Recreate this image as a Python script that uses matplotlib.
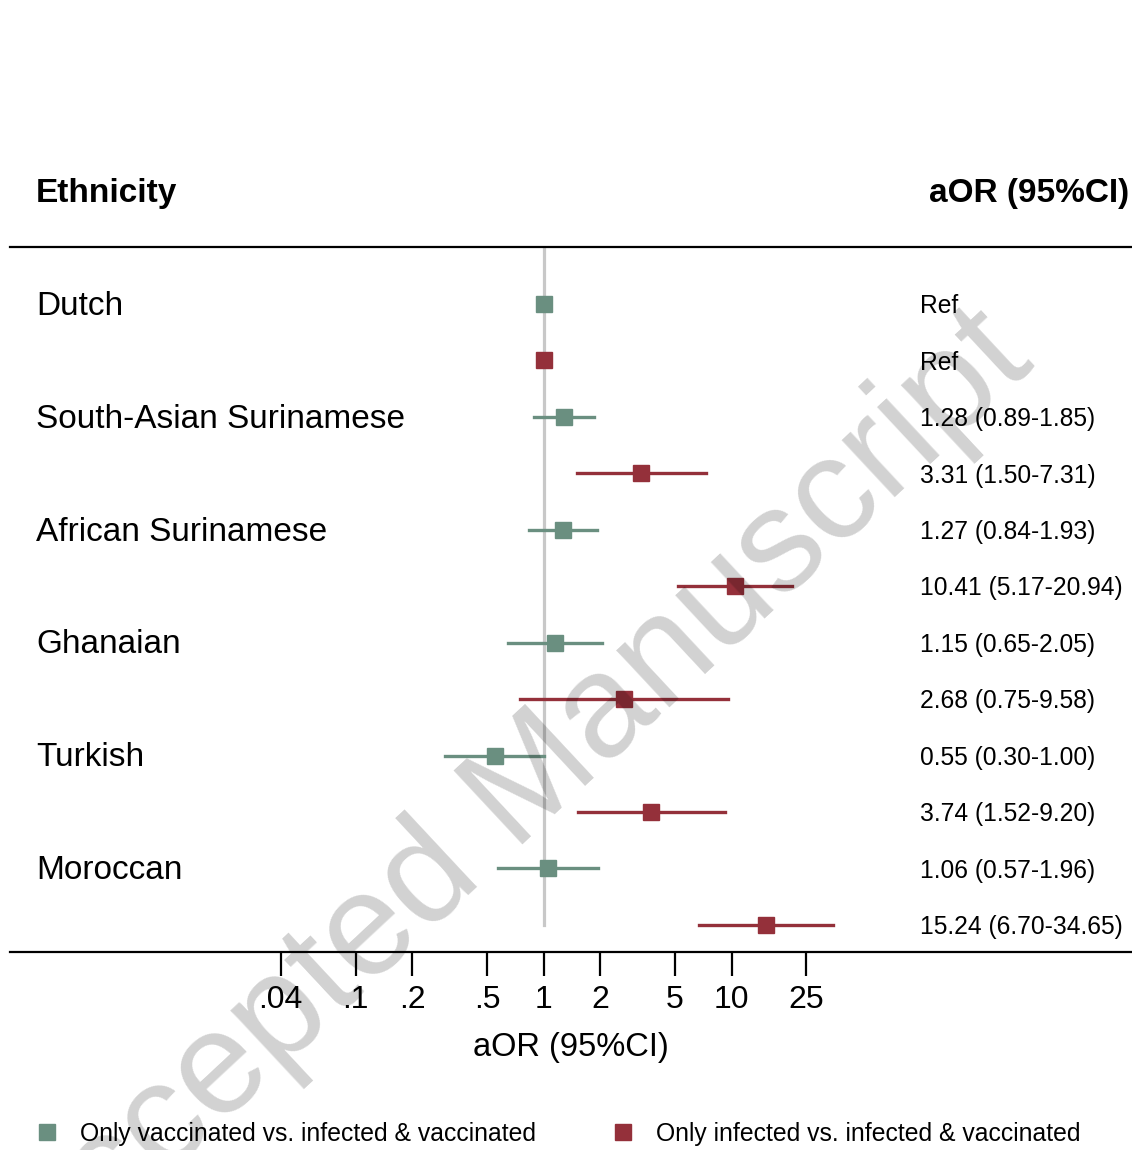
import matplotlib.pyplot as plt
from matplotlib.lines import Line2D
from matplotlib import transforms

plt.rcParams['font.family'] = ['Liberation Sans', 'DejaVu Sans']

# data
ethnicity = ['Dutch', 'South-Asian Surinamese', 'African Surinamese', 'Ghanaian', 'Turkish', 'Moroccan']
vacc_or = [1.0, 1.28, 1.27, 1.15, 0.55, 1.06]
vacc_lo = [1.0, 0.89, 0.84, 0.65, 0.30, 0.57]
vacc_hi = [1.0, 1.85, 1.93, 2.05, 1.00, 1.96]
inf_or = [1.0, 3.31, 10.41, 2.68, 3.74, 15.24]
inf_lo = [1.0, 1.50, 5.17, 0.75, 1.52, 6.70]
inf_hi = [1.0, 7.31, 20.94, 9.58, 9.20, 34.65]
vacc_txt = ['Ref', '1.28 (0.89-1.85)', '1.27 (0.84-1.93)', '1.15 (0.65-2.05)', '0.55 (0.30-1.00)', '1.06 (0.57-1.96)']
inf_txt = ['Ref', '3.31 (1.50-7.31)', '10.41 (5.17-20.94)', '2.68 (0.75-9.58)', '3.74 (1.52-9.20)', '15.24 (6.70-34.65)']
ticks = [0.04, 0.1, 0.2, 0.5, 1, 2, 5, 10, 25]
tick_labels = ['.04', '.1', '.2', '.5', '1', '2', '5', '10', '25']
legend_labels = ['Only vaccinated vs. infected & vaccinated', 'Only infected vs. infected & vaccinated']

c_vacc = '#6a8f80'
c_inf = '#94303a'

fig = plt.figure(figsize=(11.32, 11.5), dpi=100)
ax = fig.add_axes([10 / 1132, 1 - 952 / 1150, 1122 / 1132, 705 / 1150])
ax.set_xscale('log')
ax.set_xlim(10 ** -2.838, 10 ** 3.130)
ax.set_ylim(11.48, -1.01)

# reference line at 1
ax.plot([1, 1], [-1.01, 11], color='#c8c8c8', lw=2.3, zorder=1)

for i in range(len(ethnicity)):
    yv = 2 * i
    yi = 2 * i + 1
    ax.plot([vacc_lo[i], vacc_hi[i]], [yv, yv], color=c_vacc, lw=2.4, zorder=2)
    ax.plot(vacc_or[i], yv, 's', color=c_vacc, ms=12, zorder=3)
    ax.plot([inf_lo[i], inf_hi[i]], [yi, yi], color=c_inf, lw=2.4, zorder=2)
    ax.plot(inf_or[i], yi, 's', color=c_inf, ms=12, zorder=3)

trans = transforms.blended_transform_factory(ax.transAxes, ax.transData)
for i, name in enumerate(ethnicity):
    ax.text(0.0232, 2 * i + 0.04, name, transform=trans, fontsize=24, va='center', ha='left')
    ax.text(0.811, 2 * i + 0.04, vacc_txt[i], transform=trans, fontsize=17.7, va='center', ha='left')
    ax.text(0.811, 2 * i + 1.04, inf_txt[i], transform=trans, fontsize=17.7, va='center', ha='left')

ax.text(0.0232, -1.95, 'Ethnicity', transform=trans, fontsize=24, fontweight='bold',
        va='center', ha='left', clip_on=False)
ax.text(0.997, -1.95, 'aOR (95%CI)', transform=trans, fontsize=24, fontweight='bold',
        va='center', ha='right', clip_on=False)

ax.set_xticks(ticks)
ax.set_xticklabels(tick_labels)
ax.xaxis.set_minor_locator(plt.NullLocator())
ax.tick_params(axis='x', length=17, width=1.6, labelsize=23, pad=7)
ax.set_yticks([])
ax.set_xlabel('aOR (95%CI)', fontsize=23.5, labelpad=12)
for s in ['left', 'right']:
    ax.spines[s].set_visible(False)
for s in ['top', 'bottom']:
    ax.spines[s].set_linewidth(1.6)

handles = [Line2D([], [], marker='s', color=c_vacc, ls='none', ms=11),
           Line2D([], [], marker='s', color=c_inf, ls='none', ms=11)]
fig.legend(handles, legend_labels, loc='center left', bbox_to_anchor=(37 / 1132, 1 - 1134 / 1150),
           ncol=2, frameon=False, fontsize=17.8, handlelength=0.8, handletextpad=0.95,
           columnspacing=3.1, borderpad=0, borderaxespad=0)

# watermark
fig.text(0.4523, 0.3026, 'Accepted Manuscript', rotation=43, rotation_mode='anchor',
         ha='center', va='center', fontsize=105, color='black', alpha=0.18, zorder=10)

fig.savefig('out.png', dpi=100)
